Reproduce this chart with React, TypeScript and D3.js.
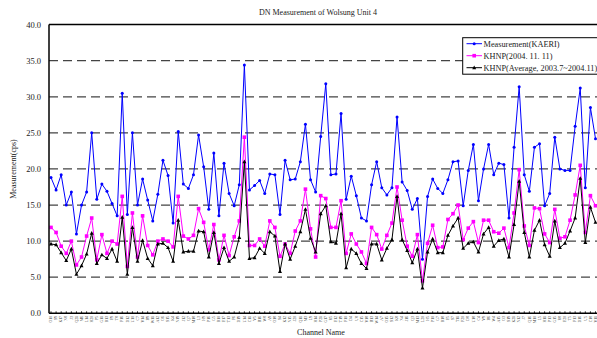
import React from 'react';
import * as d3 from 'd3';

const channels = [
  'O10','S9','K17','N8','J3','Q21','M6','L14','H20','P5','G11','R13','E9','T8','F16','D12','U10','C7','V14','B9','W11','A12','O6','S15','K4','N19','J12','Q7','M18','L3','H9','P16','G5','R10','E17','T13',
  'F6','D19','U14','C11','V5','B16','W8','A9','O18','S4','K12','N15','J20','Q11','M3','L9','H14',
  'P21','G17','R5','E12','T19','F10','D4','U8','C15','V18','B13','W14','A7','O15','S12','K8','N4','J16','Q3','M13','L20','H5','P10','G7','R18','E5','S7',
  'T11','F20','D8','U18','C4','V9','B6','W4','A15','O3','S19','K21','N12','J7','Q16','M10','L5','H11','P13','G15','R8','E20','T5','F13','D16','U5','C18','V11',
];

const kaeri = [
  18.8, 17.1, 19.2, 15.0, 16.8, 11.0, 15.0, 16.8, 25.0, 15.8, 17.9, 16.9, 15.2, 13.5, 30.5, 13.7, 25.0, 15.0, 18.6, 15.7, 12.8, 16.5, 21.2, 19.1, 12.5, 25.2, 17.9, 17.3, 19.2, 24.7, 20.3, 14.4, 22.2, 13.5, 20.8, 16.6,
  14.9, 17.8, 34.4, 17.1, 17.7, 18.4, 16.6, 19.3, 19.2, 13.7, 21.2, 18.5, 18.6, 21.0, 26.2, 18.5, 16.8,
  24.5, 31.8, 19.2, 19.3, 27.7, 15.8, 19.0, 16.3, 13.2, 12.8, 17.8, 21.0, 17.4, 16.4, 17.4, 27.2, 18.2, 17.0, 14.4, 15.9, 7.5, 16.2, 18.6, 17.3, 16.6, 18.5, 21.0,
  21.1, 14.9, 19.8, 23.4, 15.6, 20.0, 23.4, 19.2, 20.8, 20.6, 13.2, 23.0, 31.4, 19.2, 16.9, 23.0, 23.5, 14.9, 16.6, 24.4, 20.0, 19.8, 19.8, 25.9, 31.2, 17.4, 28.5, 24.2,
];

const khnp = [
  11.9, 11.2, 9.3, 8.3, 10.0, 6.7, 7.8, 10.7, 13.2, 7.4, 10.9, 8.3, 10.0, 9.6, 16.2, 6.5, 13.9, 7.8, 13.5, 9.4, 8.1, 10.0, 10.3, 10.0, 9.2, 16.2, 10.7, 10.3, 10.8, 14.5, 12.6, 8.8, 12.3, 7.4, 10.8, 8.0,
  10.6, 12.8, 24.4, 9.4, 9.4, 10.3, 9.3, 12.8, 11.9, 7.9, 9.6, 8.3, 11.4, 12.8, 17.2, 11.7, 7.8,
  16.3, 15.9, 11.9, 11.9, 15.6, 8.3, 11.0, 9.6, 8.5, 6.9, 11.9, 10.9, 8.9, 10.8, 12.5, 17.5, 12.9, 9.3, 7.9, 10.9, 4.5, 9.7, 12.2, 9.1, 9.2, 13.0, 13.8,
  15.0, 10.2, 11.8, 12.7, 9.8, 12.9, 12.9, 11.3, 11.1, 11.8, 9.1, 13.9, 19.9, 12.1, 9.4, 14.6, 14.5, 11.0, 9.8, 14.4, 10.4, 10.6, 12.9, 16.4, 20.5, 11.2, 16.3, 14.9,
];

const khnpAvg = [
  9.6, 9.5, 8.4, 7.3, 8.9, 5.4, 6.6, 8.2, 11.1, 6.9, 8.1, 7.6, 8.9, 7.2, 13.3, 5.4, 11.9, 7.2, 10.1, 7.6, 6.6, 9.6, 9.7, 9.1, 7.2, 12.9, 8.5, 8.6, 8.6, 11.4, 11.3, 7.8, 11.2, 6.9, 9.1, 7.2,
  7.8, 10.5, 21.0, 7.6, 7.7, 9.0, 8.3, 11.3, 10.7, 5.8, 9.6, 7.5, 9.3, 11.3, 14.4, 10.4, 8.5,
  13.8, 14.9, 9.9, 9.7, 13.8, 6.3, 8.9, 8.3, 6.9, 6.2, 9.6, 9.6, 7.4, 9.0, 10.2, 16.2, 10.2, 8.7, 7.0, 8.9, 3.5, 8.5, 10.3, 8.4, 8.4, 10.8, 12.1,
  13.2, 9.0, 9.7, 9.9, 8.5, 11.0, 11.9, 9.3, 10.1, 10.3, 7.8, 12.3, 18.3, 11.2, 7.8, 11.5, 12.9, 9.5, 7.9, 12.8, 9.1, 9.7, 11.4, 13.2, 18.7, 9.8, 14.7, 12.6,
];

const yTicks = [0, 5, 10, 15, 20, 25, 30, 35, 40];
const legendNames = ['Measurement(KAERI)', 'KHNP(2004. 11. 11)', 'KHNP(Average, 2003.7~2004.11)'];

const W = 597, H = 338;
const font = 'Liberation Serif, Times New Roman, serif';

// marker shapes
function Marker({ kind, x, y, color }: { kind: number; x: number; y: number; color: string }) {
  if (kind === 0) return <circle cx={x} cy={y} r={1.5} fill={color} />;
  if (kind === 1) return <rect x={x - 1.8} y={y - 1.8} width={3.6} height={3.6} fill={color} />;
  return <path d={`M${x},${y - 2.2}L${x + 2},${y + 1.5}L${x - 2},${y + 1.5}Z`} fill={color} />;
}

export default function App() {
  const left = 49, top = 24.6, bottom = 313.3, right = 620;

  const x = d3.scalePoint<number>().domain(d3.range(channels.length)).range([51, 595.5]);
  const y = d3.scaleLinear().domain([0, 40]).range([bottom, top]);

  const series = [
    { data: kaeri, color: '#0000ff' },
    { data: khnp, color: '#ff00ff' },
    { data: khnpAvg, color: '#000000' },
  ];

  const line = d3.line<number>().x((d, i) => x(i) as number).y(d => y(d));

  return (
    <svg width={W} height={H} style={{ position: 'absolute', left: 0, top: 0, background: '#fff' }} fontFamily={font}>
      <text x={318} y={15} fontSize={8} textAnchor="middle" fill="#222">DN Measurement of Wolsung Unit 4</text>

      {/* grid */}
      {yTicks.filter(t => t > 0 && t < 40).map(t => (
        <line key={t} x1={left} x2={right} y1={y(t)} y2={y(t)} stroke="#444" strokeWidth={1.2} strokeDasharray="9,5" />
      ))}

      {/* y tick labels */}
      {yTicks.map(t => (
        <text key={t} x={41} y={y(t) + 3} fontSize={8.5} textAnchor="end" fill="#222">{t.toFixed(1)}</text>
      ))}

      {/* series */}
      {series.map((s, k) => (
        <g key={k}>
          <path d={line(s.data) || ''} fill="none" stroke={s.color} strokeWidth={1} />
          {s.data.map((v, i) => <Marker key={i} kind={k} x={x(i) as number} y={y(v)} color={s.color} />)}
        </g>
      ))}

      {/* frame */}
      <line x1={left} x2={right} y1={top} y2={top} stroke="#000" strokeWidth={1.5} />
      <line x1={left} x2={right} y1={bottom} y2={bottom} stroke="#000" strokeWidth={1.5} />
      <line x1={left} x2={left} y1={top} y2={bottom} stroke="#000" strokeWidth={1.5} />
      {channels.map((c, i) => (
        <line key={i} x1={x(i)} x2={x(i)} y1={bottom} y2={bottom - 2} stroke="#000" strokeWidth={0.8} />
      ))}

      {/* x tick labels */}
      {channels.map((c, i) => (
        <text key={i} transform={`translate(${(x(i) as number) + 1.2},316) rotate(-90)`} fontSize={3.8} textAnchor="end" fill="#333">{c}</text>
      ))}

      <text x={321} y={335} fontSize={8} textAnchor="middle" fill="#222">Channel Name</text>
      <text transform="translate(16,169) rotate(-90)" fontSize={8} textAnchor="middle" fill="#222">Measurement(cps)</text>

      {/* legend */}
      <g>
        <rect x={462.7} y={37.7} width={150} height={36.5} fill="#fff" stroke="#000" strokeWidth={1} />
        {series.map((s, k) => {
          const ly = 43.7 + k * 12;
          return (
            <g key={k}>
              <line x1={466.5} x2={482} y1={ly} y2={ly} stroke={s.color} strokeWidth={1} />
              <Marker kind={k} x={474.2} y={ly} color={s.color} />
              <text x={483.5} y={ly + 3} fontSize={8.3} fill="#222">{legendNames[k]}</text>
            </g>
          );
        })}
      </g>
    </svg>
  );
}
